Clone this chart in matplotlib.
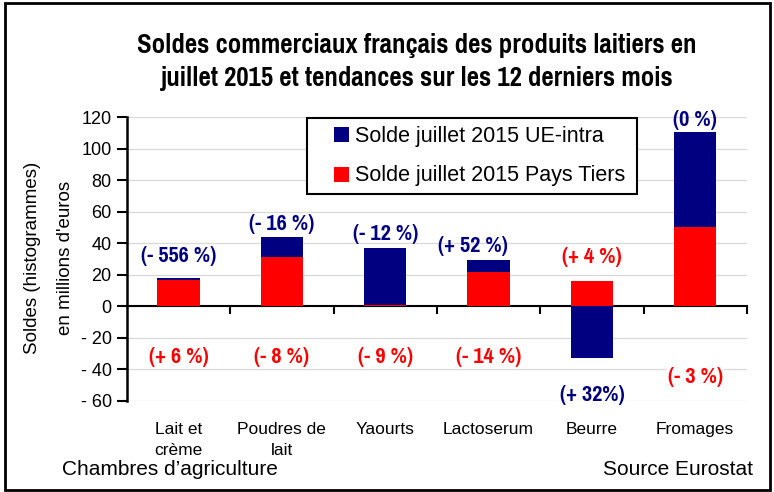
import matplotlib
matplotlib.use('Agg')
from matplotlib import pyplot as plt
from matplotlib.patches import Rectangle
from matplotlib.lines import Line2D
from matplotlib.ticker import FuncFormatter

categories = ['Lait et\ncrème', 'Poudres de\nlait', 'Yaourts', 'Lactoserum', 'Beurre', 'Fromages']
pays_tiers = [16.4, 31.6, 1.0, 21.5, 15.8, 50.4]
ue_intra = [1.3, 12.1, 36.3, 8.2, -32.7, 60.2]
ue_pct = ['(- 556 %)', '(- 16 %)', '(- 12 %)', '(+ 52 %)', '(+ 32%)', '(0 %)']
pt_pct = ['(+ 6 %)', '(- 8 %)', '(- 9 %)', '(- 14 %)', '(+ 4 %)', '(- 3 %)']
yticks = [-60, -40, -20, 0, 20, 40, 60, 80, 100, 120]

# where the percentage labels sit (y, data units)
ue_label_y = [32, 52, 46, 38, -56, 118]
pt_label_y = [-32, -32, -32, -32, 31, -45]

narrow = ['Pragati Narrow', 'Liberation Sans']
plt.rcParams['font.family'] = ['Liberation Sans', 'DejaVu Sans']

navy = '#000080'
red = '#ff0000'

fig = plt.figure(figsize=(7.74, 4.92), dpi=100)
ax = fig.add_axes([0.164, 0.185, 0.801, 0.577])

x = range(len(categories))
# navy sits on the red bar when positive, below zero when negative
ue_bottom = [p if u >= 0 else 0 for p, u in zip(pays_tiers, ue_intra)]
b1 = ax.bar(x, pays_tiers, width=0.41, color=red, label='Solde juillet 2015 Pays Tiers', zorder=3)
b2 = ax.bar(x, ue_intra, width=0.41, bottom=ue_bottom, color=navy, label='Solde juillet 2015 UE-intra', zorder=3)

for i in x:
    ax.text(i - 0.15 if i == 3 else i, ue_label_y[i], ue_pct[i], color=navy, ha='center', va='center',
            fontsize=17.5, fontweight='bold', family=narrow, zorder=4)
    ax.text(i, pt_label_y[i], pt_pct[i], color=red, ha='center', va='center',
            fontsize=17.5, fontweight='bold', family=narrow, zorder=4,
            bbox=dict(facecolor='white', edgecolor='none', pad=1))

ax.set_xlim(-0.5, 5.5)
ax.set_ylim(-60, 120)
ax.set_yticks(yticks)
ax.yaxis.set_major_formatter(FuncFormatter(lambda v, p: ('- %d' % -v) if v < 0 else '%d' % v))
ax.tick_params(axis='y', labelsize=13, width=1.5, length=7, pad=4)
ax.set_xticks([0.5, 1.5, 2.5, 3.5, 4.5, 5.5])
ax.set_xticklabels([])
ax.tick_params(axis='x', direction='out', width=1.5, length=6)

ax.spines['top'].set_visible(False)
ax.spines['right'].set_visible(False)
ax.spines['left'].set_linewidth(1.8)
ax.spines['bottom'].set_position(('data', 0))
ax.spines['bottom'].set_linewidth(1.5)
ax.set_axisbelow(True)
ax.yaxis.grid(True, color='#d9d9d9', linewidth=0.9)

for i, c in enumerate(categories):
    ax.text(i, -0.075, c, transform=ax.get_xaxis_transform(), ha='center', va='top',
            fontsize=12.5, linespacing=1.45)

# small square keys like the original legend
keys = [Line2D([], [], marker='s', markersize=10.8, markeredgewidth=0, linestyle='none', color=navy),
        Line2D([], [], marker='s', markersize=10.8, markeredgewidth=0, linestyle='none', color=red)]
leg = ax.legend(keys, [b2.get_label(), b1.get_label()], loc='upper left',
                bbox_to_anchor=(0.290, 0.70, 0.533, 0.296), mode='expand',
                fontsize=15.5, frameon=True, fancybox=False, handlelength=2.5,
                handletextpad=-0.63, borderpad=0.35, labelspacing=0.85, borderaxespad=0)
leg.get_frame().set_edgecolor('black')
leg.get_frame().set_linewidth(1.5)
leg.get_frame().set_alpha(1)

fig.text(0.539, 0.908, 'Soldes commerciaux français des produits laitiers en', ha='center', va='center',
         fontsize=21, fontweight='bold', family=narrow)
fig.text(0.539, 0.841, 'juillet 2015 et tendances sur les 12 derniers mois', ha='center', va='center',
         fontsize=21, fontweight='bold', family=narrow)

fig.text(0.042, 0.475, 'Soldes (histogrammes)', rotation=90, ha='center', va='center', fontsize=13.5)
fig.text(0.084, 0.475, "en millions d'euros", rotation=90, ha='center', va='center', fontsize=13.5)

fig.text(0.08, 0.046, 'Chambres d’agriculture', ha='left', va='center', fontsize=15)
fig.text(0.973, 0.046, 'Source Eurostat', ha='right', va='center', fontsize=15)

fig.patches.append(Rectangle((0.006, 0.004), 0.989, 0.99, transform=fig.transFigure,
                             fill=False, edgecolor='black', linewidth=2))

plt.savefig('out.png', dpi=100)
